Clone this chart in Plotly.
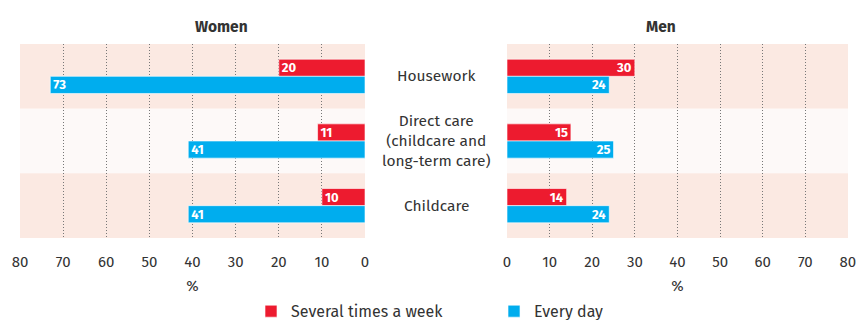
import plotly.graph_objects as go
from plotly.subplots import make_subplots

categories = ["Housework", "Direct care", "Childcare"]
category_labels = ["Housework", "Direct care<br>(childcare and<br>long-term care)", "Childcare"]
series_names = ["Several times a week", "Every day"]
women_weekly = [20, 11, 10]
women_daily = [73, 41, 41]
men_weekly = [30, 15, 14]
men_daily = [24, 25, 24]
tick_vals = [0, 10, 20, 30, 40, 50, 60, 70, 80]

RED = "#ed1b2f"
BLUE = "#00adee"
BAND_DARK = "#fbe9e2"
BAND_LIGHT = "#fdf9f8"
TEXT = "#333333"
FONT = "Fira Sans, Lato, Noto Sans, sans-serif"

fig = make_subplots(rows=1, cols=2, shared_yaxes=False, horizontal_spacing=0.17)

panels = [(1, women_weekly, women_daily, True), (2, men_weekly, men_daily, False)]
for col, weekly, daily, show in panels:
    for name, vals, color in [(series_names[0], weekly, RED), (series_names[1], daily, BLUE)]:
        fig.add_trace(
            go.Bar(
                y=categories, x=vals, orientation="h", name=name,
                marker=dict(color=color, line=dict(color="rgba(255,255,255,0.6)", width=1)),
                text=[str(v) for v in vals], textposition="inside",
                insidetextanchor="end", textangle=0, constraintext="none",
                textfont=dict(color="white", size=13, family=FONT, weight="bold"),
                showlegend=show, legendgroup=name,
                hoverinfo="skip",
            ),
            row=1, col=col,
        )

plot_w = 857 - 20 - 9
dom_left = [0, 345 / plot_w]
dom_right = [(507 - 20) / plot_w, 1]
mid_x = (dom_left[1] + dom_right[0]) / 2

axis_common = dict(
    tickvals=tick_vals, showgrid=True, gridcolor="#777777",
    griddash="1px,2px", gridwidth=1, zeroline=False, showline=False,
    ticks="outside", ticklen=10, tickcolor="rgba(0,0,0,0)", automargin=False,
    ticklabeloverflow="allow",
    tickfont=dict(size=15, color=TEXT, family=FONT),
    title=dict(text="%", font=dict(size=15, color=TEXT, family=FONT), standoff=10),
)
fig.update_xaxes(**axis_common)
fig.update_xaxes(autorange=False, range=[80.02, 0], domain=dom_left, row=1, col=1)
fig.update_xaxes(autorange=False, range=[0, 80.02], domain=dom_right, row=1, col=2)
fig.update_yaxes(autorange="reversed", showticklabels=False, showgrid=False,
                 zeroline=False, showline=False, ticks="", automargin=False)

# Alternating row bands behind each panel
shapes = []
for i in range(len(categories)):
    color = BAND_DARK if i % 2 == 0 else BAND_LIGHT
    for xr, yr in [("x domain", "y"), ("x2 domain", "y2")]:
        shapes.append(dict(type="rect", xref=xr, yref=yr, x0=0, x1=1,
                           y0=i - 0.5, y1=i + 0.5, fillcolor=color,
                           line=dict(width=0), layer="below"))

annotations = []
for i, lab in enumerate(category_labels):
    annotations.append(dict(text=lab, xref="paper", yref="y", x=mid_x, y=categories[i],
                            showarrow=False, xanchor="center", yanchor="middle",
                            font=dict(size=15.5, color=TEXT, family=FONT)))
annotations.append(dict(text="<b>Women</b>", xref="paper", yref="paper",
                        x=(dom_left[0] + dom_left[1]) / 2, y=1.0, yshift=28,
                        showarrow=False, font=dict(size=15.5, color=TEXT, family=FONT)))
annotations.append(dict(text="<b>Men</b>", xref="paper", yref="paper",
                        x=(dom_right[0] + dom_right[1]) / 2, y=1.0, yshift=28,
                        showarrow=False, font=dict(size=15.5, color=TEXT, family=FONT)))

fig.update_layout(
    width=857, height=320,
    margin=dict(l=20, r=9, t=44, b=82, autoexpand=False),
    paper_bgcolor="white", plot_bgcolor="rgba(0,0,0,0)",
    barmode="group", bargap=0.47, bargroupgap=0,
    shapes=shapes, annotations=annotations,
    font=dict(family=FONT, color=TEXT, size=15),
    legend=dict(orientation="h", x=0.279, xanchor="left", y=-0.29, yanchor="top",
                entrywidth=198, entrywidthmode="pixels",
                font=dict(size=16, color=TEXT, family=FONT), traceorder="normal"),
)

fig.write_html("out.html")
